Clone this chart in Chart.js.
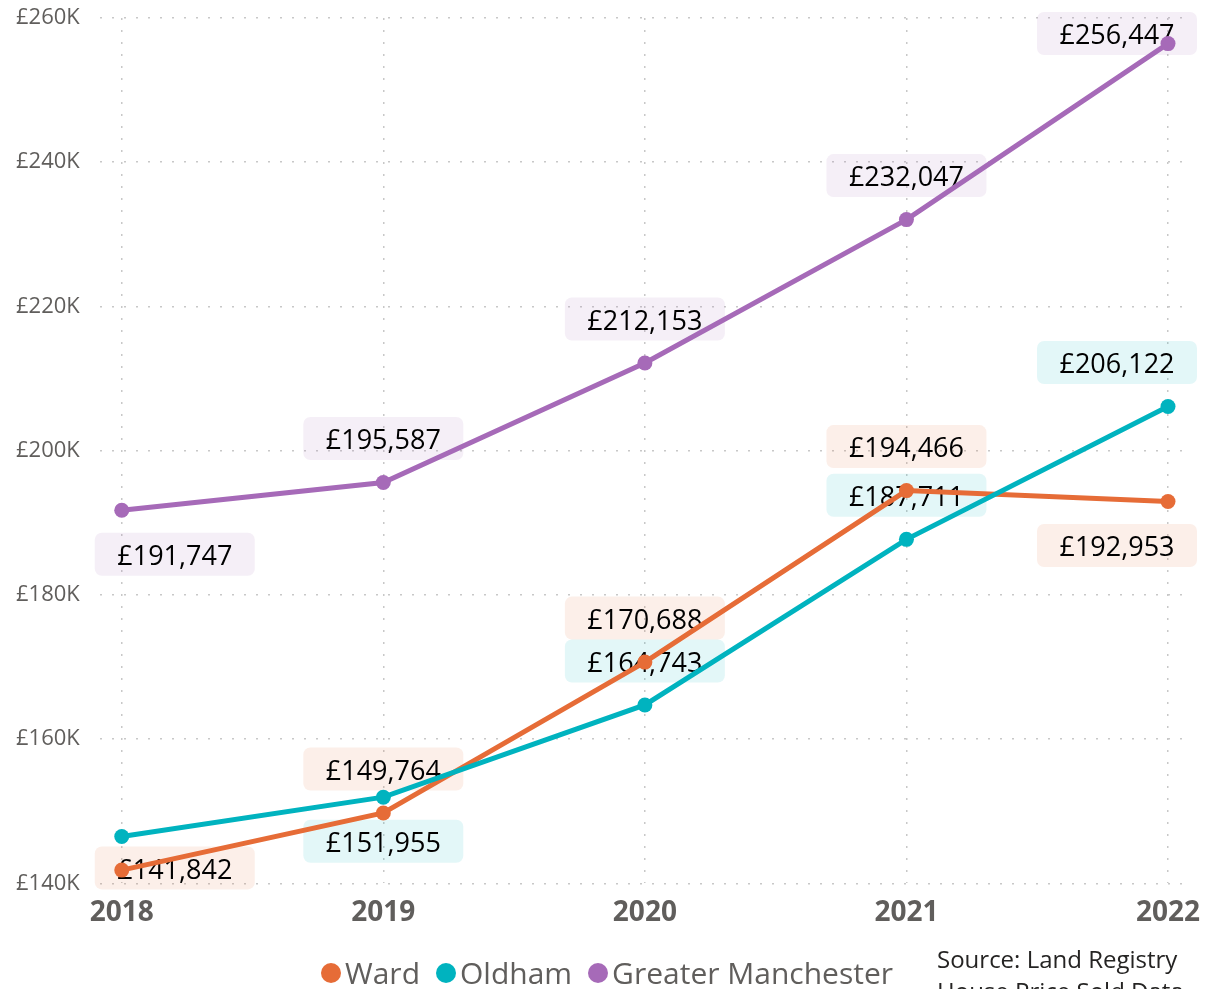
<!DOCTYPE html>
<html>
<head>
<meta charset="utf-8">
<script src="https://cdn.jsdelivr.net/npm/chart.js@4/dist/chart.umd.min.js"></script>
<style>
  html, body { margin: 0; padding: 0; background: #fff; overflow: hidden; }
  #wrap { position: relative; width: 1211px; height: 989px; }
  #legend { position: absolute; left: 321px; top: 952px; display: flex; align-items: center;
    font-family: "Open Sans", sans-serif; font-size: 30px; color: #605E5C; line-height: 42px; }
  #legend span.item { display: flex; align-items: center; margin-right: 16px; }
  #legend span.dot { width: 20px; height: 20px; border-radius: 50%; display: inline-block; margin-right: 4px; }
  #source { position: absolute; left: 937px; top: 943px; font-family: "Open Sans", sans-serif;
    font-size: 24px; color: #252423; line-height: 32px; }
</style>
</head>
<body>
<div id="wrap">
  <canvas id="c" width="1211" height="989"></canvas>
  <div id="legend"></div>
  <div id="source">Source: Land Registry<br>House Price Sold Data</div>
</div>
<script>
// data
const years = ['2018', '2019', '2020', '2021', '2022'];
const seriesNames = ['Ward', 'Oldham', 'Greater Manchester'];
const ward = [141842, 149764, 170688, 194466, 192953];
const oldham = [146500, 151955, 164743, 187711, 206122];
const greaterManchester = [191747, 195587, 212153, 232047, 256447];
const yTicks = [140000, 160000, 180000, 200000, 220000, 240000, 260000];

// where each data label sits (null = no label)
const wardLabelPos = ['below', 'above', 'above', 'above', 'below'];
const oldhamLabelPos = [null, 'below', 'above', 'above', 'above'];
const gmLabelPos = ['below', 'above', 'above', 'above', 'above'];

const colors = ['#E66C37', '#00B3BF', '#A66AB8'];
const boxColors = ['rgba(230,108,55,0.11)', 'rgba(0,179,191,0.11)', 'rgba(166,106,184,0.11)'];
const FONT = '"Open Sans", sans-serif';

const toPoints = arr => arr.map((v, i) => ({x: i, y: v}));
const fmt = v => '£' + v.toLocaleString('en-GB');

// data labels with rounded background boxes
const labelPlugin = {
  id: 'boxLabels',
  beforeDatasetsDraw(chart) {
    const ctx = chart.ctx;
    const area = chart.chartArea;
    const W = 160, H = 43, R = 7, OFF = 44;
    chart.data.datasets.forEach((ds, di) => {
      const meta = chart.getDatasetMeta(di);
      meta.data.forEach((pt, i) => {
        const pos = ds.labelPos[i];
        if (!pos) return;
        let cx = pt.x;
        let cy = pos === 'above' ? pt.y - OFF : pt.y + OFF;
        let left = cx - W / 2, top = cy - H / 2;
        left = Math.max(area.left - 5, Math.min(left, area.right + 12 - W));
        top = Math.max(area.top - 6, Math.min(top, area.bottom + 6 - H));
        ctx.save();
        ctx.fillStyle = ds.boxColor;
        ctx.beginPath();
        ctx.roundRect(left, top, W, H, R);
        ctx.fill();
        ctx.fillStyle = '#000';
        ctx.font = '27px ' + FONT;
        ctx.textAlign = 'center';
        ctx.textBaseline = 'middle';
        ctx.fillText(fmt(ds.data[i].y), left + W / 2, top + H / 2 + 3);
        ctx.restore();
      });
    });
  }
};

const allSeries = [ward, oldham, greaterManchester];
const allPos = [wardLabelPos, oldhamLabelPos, gmLabelPos];
const drawOrder = [2, 1, 0];

const datasets = allSeries.map((s, k) => ({
  label: seriesNames[k],
  data: toPoints(s),
  borderColor: colors[k],
  backgroundColor: colors[k],
  pointBackgroundColor: colors[k],
  pointBorderColor: colors[k],
  borderWidth: 5,
  pointRadius: 7.5,
  pointBorderWidth: 0,
  order: drawOrder[k],
  labelPos: allPos[k],
  boxColor: boxColors[k]
}));

new Chart(document.getElementById('c'), {
  type: 'line',
  data: {datasets: datasets},
  options: {
    responsive: false,
    animation: false,
    layout: {padding: {left: -4, right: 26, top: 18, bottom: 46}},
    plugins: {legend: {display: false}, tooltip: {enabled: false}},
    scales: {
      x: {
        type: 'linear',
        min: -0.084,
        max: 4.065,
        border: {display: false, dash: [2, 10]},
        grid: {color: '#C8C8C8', lineWidth: 1.5, drawTicks: false},
        afterFit: axis => { axis.paddingLeft = 0; axis.paddingRight = 0; },
        ticks: {
          stepSize: 1,
          includeBounds: false,
          padding: 13,
          color: '#605E5C',
          font: {family: FONT, size: 28, weight: 'bold'},
          callback: v => years[v] || ''
        }
      },
      y: {
        min: yTicks[0],
        max: yTicks[yTicks.length - 1],
        border: {display: false, dash: [2, 10]},
        grid: {color: '#C8C8C8', lineWidth: 1.5, drawTicks: false},
        afterBuildTicks: axis => { axis.ticks = yTicks.map(v => ({value: v})); },
        afterFit: axis => { axis.paddingTop = 0; axis.paddingBottom = 0; },
        ticks: {
          padding: 20,
          color: '#605E5C',
          font: {family: FONT, size: 22},
          callback: v => '£' + (v / 1000) + 'K'
        }
      }
    }
  },
  plugins: [labelPlugin]
});

// legend built from the series names
const leg = document.getElementById('legend');
seriesNames.forEach((n, k) => {
  const item = document.createElement('span');
  item.className = 'item';
  item.innerHTML = '<span class="dot" style="background:' + colors[k] + '"></span>' + n;
  leg.appendChild(item);
});
</script>
</body>
</html>
